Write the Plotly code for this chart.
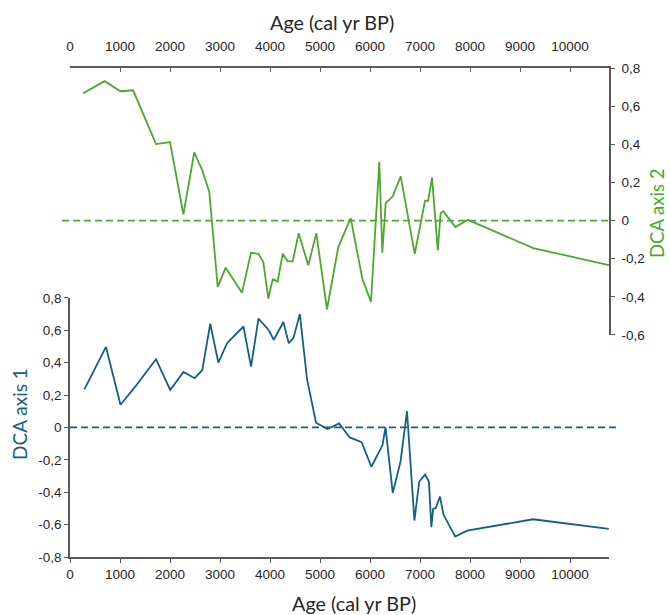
import plotly.graph_objects as go

# ---- data ----
age_dca1 = [287, 720, 1010, 1300, 1720, 2004, 2270, 2490, 2645, 2805, 2967, 3141, 3469, 3621, 3769, 3969,
            4076, 4268, 4375, 4468, 4597, 4741, 4921, 5151, 5381, 5596, 5833, 6027, 6207, 6250, 6310,
            6455, 6611, 6740, 6888, 6985, 7102, 7178, 7227, 7262, 7310, 7400, 7469, 7704, 7943, 9260, 10775]
dca1 = [0.235, 0.497, 0.140, 0.250, 0.421, 0.231, 0.343, 0.304, 0.353, 0.640, 0.400, 0.520, 0.623, 0.375, 0.671, 0.603,
        0.541, 0.651, 0.520, 0.551, 0.700, 0.297, 0.029, -0.010, 0.025, -0.062, -0.091, -0.243, -0.136, -0.109, 0.000,
        -0.405, -0.210, 0.100, -0.575, -0.334, -0.291, -0.334, -0.616, -0.503, -0.499, -0.427, -0.538, -0.674, -0.637, -0.567, -0.627]

age_dca2 = [262, 693, 1010, 1262, 1720, 2000, 2268, 2485, 2645, 2786, 2954, 3114, 3440, 3620, 3766, 3866,
            3966, 4054, 4154, 4254, 4354, 4454, 4574, 4766, 4926, 5140, 5366, 5614, 5846, 6020, 6186,
            6246, 6314, 6454, 6614, 6895, 7100, 7163, 7240, 7356, 7412, 7466, 7708, 7956, 9265, 10780]
dca2 = [0.668, 0.731, 0.678, 0.683, 0.401, 0.412, 0.033, 0.357, 0.263, 0.150, -0.348, -0.247, -0.378, -0.169, -0.174, -0.217,
        -0.409, -0.308, -0.319, -0.174, -0.214, -0.214, -0.066, -0.235, -0.066, -0.465, -0.139, 0.013, -0.304, -0.426, 0.308,
        -0.169, 0.091, 0.127, 0.232, -0.175, 0.104, 0.104, 0.225, -0.157, 0.039, 0.049, -0.034, 0.004, -0.144, -0.234]

x_ticks = [0, 1000, 2000, 3000, 4000, 5000, 6000, 7000, 8000, 9000, 10000]
x_ticktext = [str(v) for v in x_ticks]
y1_ticks = [-0.8, -0.6, -0.4, -0.2, 0, 0.2, 0.4, 0.6, 0.8]
y1_ticktext = ["-0,8", "-0,6", "-0,4", "-0,2", "0", "0,2", "0,4", "0,6", "0,8"]
y2_ticks = [-0.6, -0.4, -0.2, 0, 0.2, 0.4, 0.6, 0.8]
y2_ticktext = ["-0,6", "-0,4", "-0,2", "0", "0,2", "0,4", "0,6", "0,8"]

BLUE = "#156082"
GREEN = "#4EA72E"
AXC = "#595959"
TICKFONT = dict(family="Liberation Sans, Arial, sans-serif", size=13.5, color="#262626")
TITLEFONT = "Lato, Liberation Sans, sans-serif"

X_RANGE = [0, 10780]
Y1_RANGE = [-0.8, 0.8]
Y2_RANGE = [-0.6, 0.8]
Y1_DOM = [0.0, 0.530]
Y2_DOM = [0.454, 1.0]

W, H = 670, 615
ML, MR, MT, MB = 70, 61, 68, 58
PW, PH = W - ML - MR, H - MT - MB

def px_x(px):
    return (px - ML) / PW

def px_y(py):
    return (H - MB - py) / PH

fig = go.Figure()
fig.add_trace(go.Scatter(x=age_dca1, y=dca1, mode="lines", line=dict(color=BLUE, width=1.8),
                         xaxis="x", yaxis="y", showlegend=False))
fig.add_trace(go.Scatter(x=age_dca2, y=dca2, mode="lines", line=dict(color=GREEN, width=1.8),
                         xaxis="x2", yaxis="y2", showlegend=False))

# zero reference lines (dashed), placed in paper coords so they may extend past the axes
y1_zero = Y1_DOM[0] + (0 - Y1_RANGE[0]) / (Y1_RANGE[1] - Y1_RANGE[0]) * (Y1_DOM[1] - Y1_DOM[0])
y2_zero = Y2_DOM[0] + (0 - Y2_RANGE[0]) / (Y2_RANGE[1] - Y2_RANGE[0]) * (Y2_DOM[1] - Y2_DOM[0])
fig.add_shape(type="line", xref="paper", yref="paper", x0=0, x1=px_x(620), y0=y1_zero, y1=y1_zero,
              line=dict(color=BLUE, width=1.8, dash="7px,4px"))
fig.add_shape(type="line", xref="paper", yref="paper", x0=px_x(62), x1=1.0, y0=y2_zero, y1=y2_zero,
              line=dict(color=GREEN, width=1.8, dash="7px,4px"))

common_x = dict(range=X_RANGE, tickvals=x_ticks, ticktext=x_ticktext, showgrid=False, zeroline=False,
                showline=True, linecolor=AXC, linewidth=1.5, tickcolor=AXC, tickwidth=1.2, ticklen=4,
                tickfont=TICKFONT)
fig.update_layout(
    width=W, height=H,
    margin=dict(l=ML, r=MR, t=MT, b=MB),
    paper_bgcolor="white", plot_bgcolor="rgba(0,0,0,0)",
    xaxis=dict(domain=[0, 1], anchor="y", side="bottom", ticks="outside", **common_x),
    xaxis2=dict(domain=[0, 1], anchor="y2", side="top", overlaying="x", ticks="inside",
                ticklabelstandoff=10, **common_x),
    yaxis=dict(domain=Y1_DOM, range=Y1_RANGE, anchor="x", side="left", tickvals=y1_ticks,
               ticktext=y1_ticktext, showgrid=False, zeroline=False, showline=True, linecolor=AXC,
               linewidth=1.5, ticks="outside", tickcolor=AXC, tickwidth=1.2, ticklen=4, tickfont=TICKFONT),
    yaxis2=dict(domain=Y2_DOM, range=Y2_RANGE, anchor="x2", side="right", tickvals=y2_ticks,
                ticktext=y2_ticktext, showgrid=False, zeroline=False, showline=True, linecolor=AXC,
                linewidth=1.5, ticks="outside", tickcolor=AXC, tickwidth=1.2, ticklen=4,
                ticklabelstandoff=4, tickfont=TICKFONT),
)

fig.add_annotation(text="Age (cal yr BP)", xref="paper", yref="paper", x=px_x(332), y=px_y(22),
                   xanchor="center", yanchor="middle", showarrow=False,
                   font=dict(family=TITLEFONT, size=19.8, color="#262626"))
fig.add_annotation(text="Age (cal yr BP)", xref="paper", yref="paper", x=px_x(354), y=px_y(603),
                   xanchor="center", yanchor="middle", showarrow=False,
                   font=dict(family=TITLEFONT, size=19.8, color="#262626"))
fig.add_annotation(text="DCA axis 1", xref="paper", yref="paper", x=px_x(19), y=px_y(414),
                   xanchor="center", yanchor="middle", showarrow=False, textangle=-90,
                   font=dict(family=TITLEFONT, size=19, color=BLUE))
fig.add_annotation(text="DCA axis 2", xref="paper", yref="paper", x=px_x(657), y=px_y(214),
                   xanchor="center", yanchor="middle", showarrow=False, textangle=-90,
                   font=dict(family=TITLEFONT, size=18.5, color=GREEN))

fig.write_html("out.html", config={"displayModeBar": False},
               post_script="document.body.style.margin='0';document.body.style.overflow='hidden';")
